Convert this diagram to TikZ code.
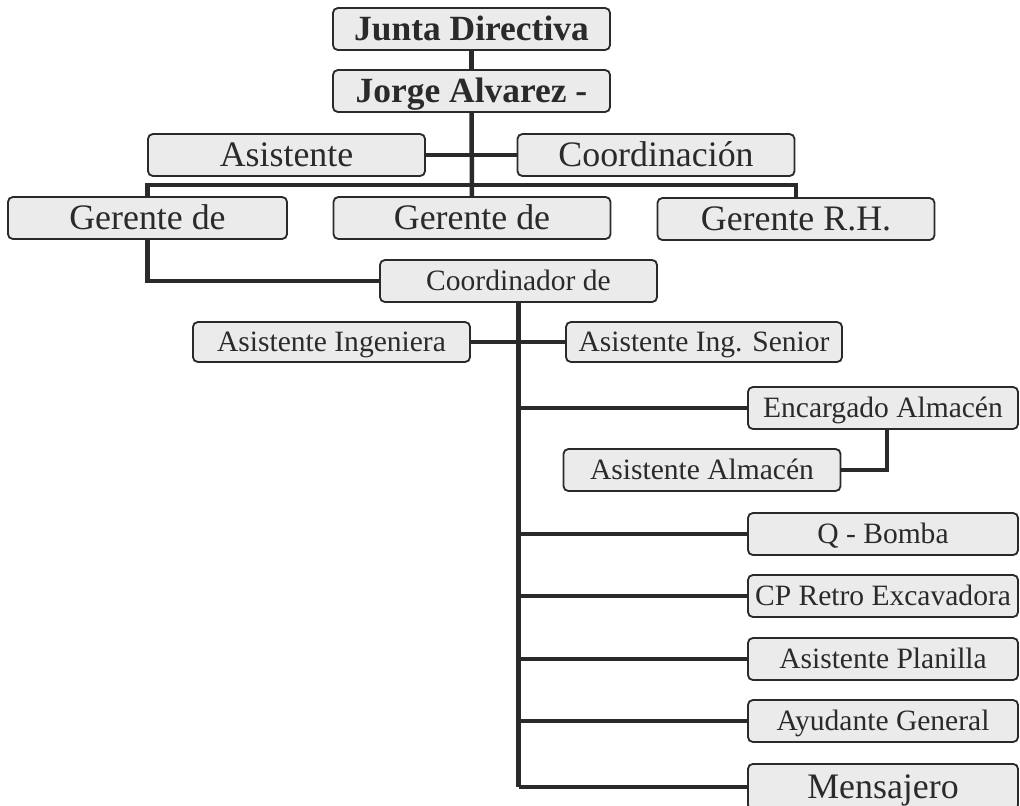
\documentclass[tikz,border=0pt]{standalone}
\usepackage{fontspec}
\setmainfont{Liberation Serif}
\usepackage{xcolor}
\usepackage{tikz}
\usetikzlibrary{positioning}
\usetikzlibrary{calc}
\definecolor{boxfill}{HTML}{EBEBEB}
\definecolor{ink}{HTML}{2A2A2A}
\tikzstyle{box} = [rectangle, rounded corners=3.5pt, draw=ink, line width=1.3pt,
fill=boxfill, text=ink, minimum width=6.925cm, minimum height=1.05cm,
inner sep=0pt, text height=16.9pt, text depth=0pt,
font=\fontsize{25.5}{30}\selectfont]
\tikzstyle{head} = [box, text height=17pt, font=\fontsize{25.2}{30}\selectfont\bfseries]
\tikzstyle{small} = [box, text height=13.9pt, font=\fontsize{21}{25}\selectfont]
\tikzstyle{side} = [small, minimum width=6.75cm]
\tikzstyle{link} = [draw=ink, line width=3.2pt]
\newcommand{\tedge}[2]{ %
  % Connect the trunk under #1 to all nodes #2.
  \foreach \y in {#2} { %
    \draw[link] (#1.south |- \y.west) -- (\y.west) ;%
  } ;
}

\begin{document}
\begin{tikzpicture}[x=0.025cm, y=-0.025cm]
  \useasboundingbox (0,0) rectangle (1020,805);
  % top
  \node[head] (jd) at (471.5,29) {Junta Directiva};
  \node[head] (ja) at (471.5,91) {Jorge Alvarez -};
  % staff
  \node[box] (asis) at (286.5,155) {Asistente};
  \node[box] (coord) at (656,155) {Coordinación};
  % managers
  \node[box, minimum width=6.975cm] (g1) at (147.5,218) {Gerente de};
  \node[box] (g2) at (472,218) {Gerente de};
  \node[box] (grh) at (796,219) {Gerente R.H.};
  % coordinator
  \node[small] (cdor) at (518.5,281) {Coordinador de};
  \node[small, minimum height=1cm] (ai) at (331.5,342) {Asistente Ingeniera};
  \node[small, minimum width=6.9cm, minimum height=1cm] (ais) at (704,342) {Asistente Ing. Senior};
  % warehouse
  \node[side] (ea) at (883,408) {Encargado Almacén};
  \node[small] (aa) at (702,470) {Asistente Almacén};
  % field staff
  \node[side] (qb) at (883,534) {Q - Bomba};
  \node[side] (cp) at (883,596) {CP Retro Excavadora};
  \node[side] (ap) at (883,659) {Asistente Planilla};
  \node[side] (ag) at (883,721) {Ayudante General};
  % last box runs off the page
  \node[side, anchor=north, minimum height=1.15cm, text height=16.9pt,
    font=\fontsize{25.5}{30}\selectfont] (me) at (883,763) {Mensajero};

  % edges
  \draw[link] (jd) -- (ja);
  \draw[link] (ja) -- (g2);
  \draw[link] (asis) -- (coord);
  \draw[link] (g1.north) -- (g1.north |- 0,185) -| (grh.north);
  \draw[link] (g1.south) |- (cdor.west);
  % trunk
  \draw[link] (cdor.south) -- (cdor.south |- me.west);
  \draw[link] (ai) -- (ais);
  \tedge {cdor} {ea, qb, cp, ap, ag, me}
  \draw[link] ([xshift=0.1cm]ea.south) |- (aa.east);
\end{tikzpicture}
\end{document}
